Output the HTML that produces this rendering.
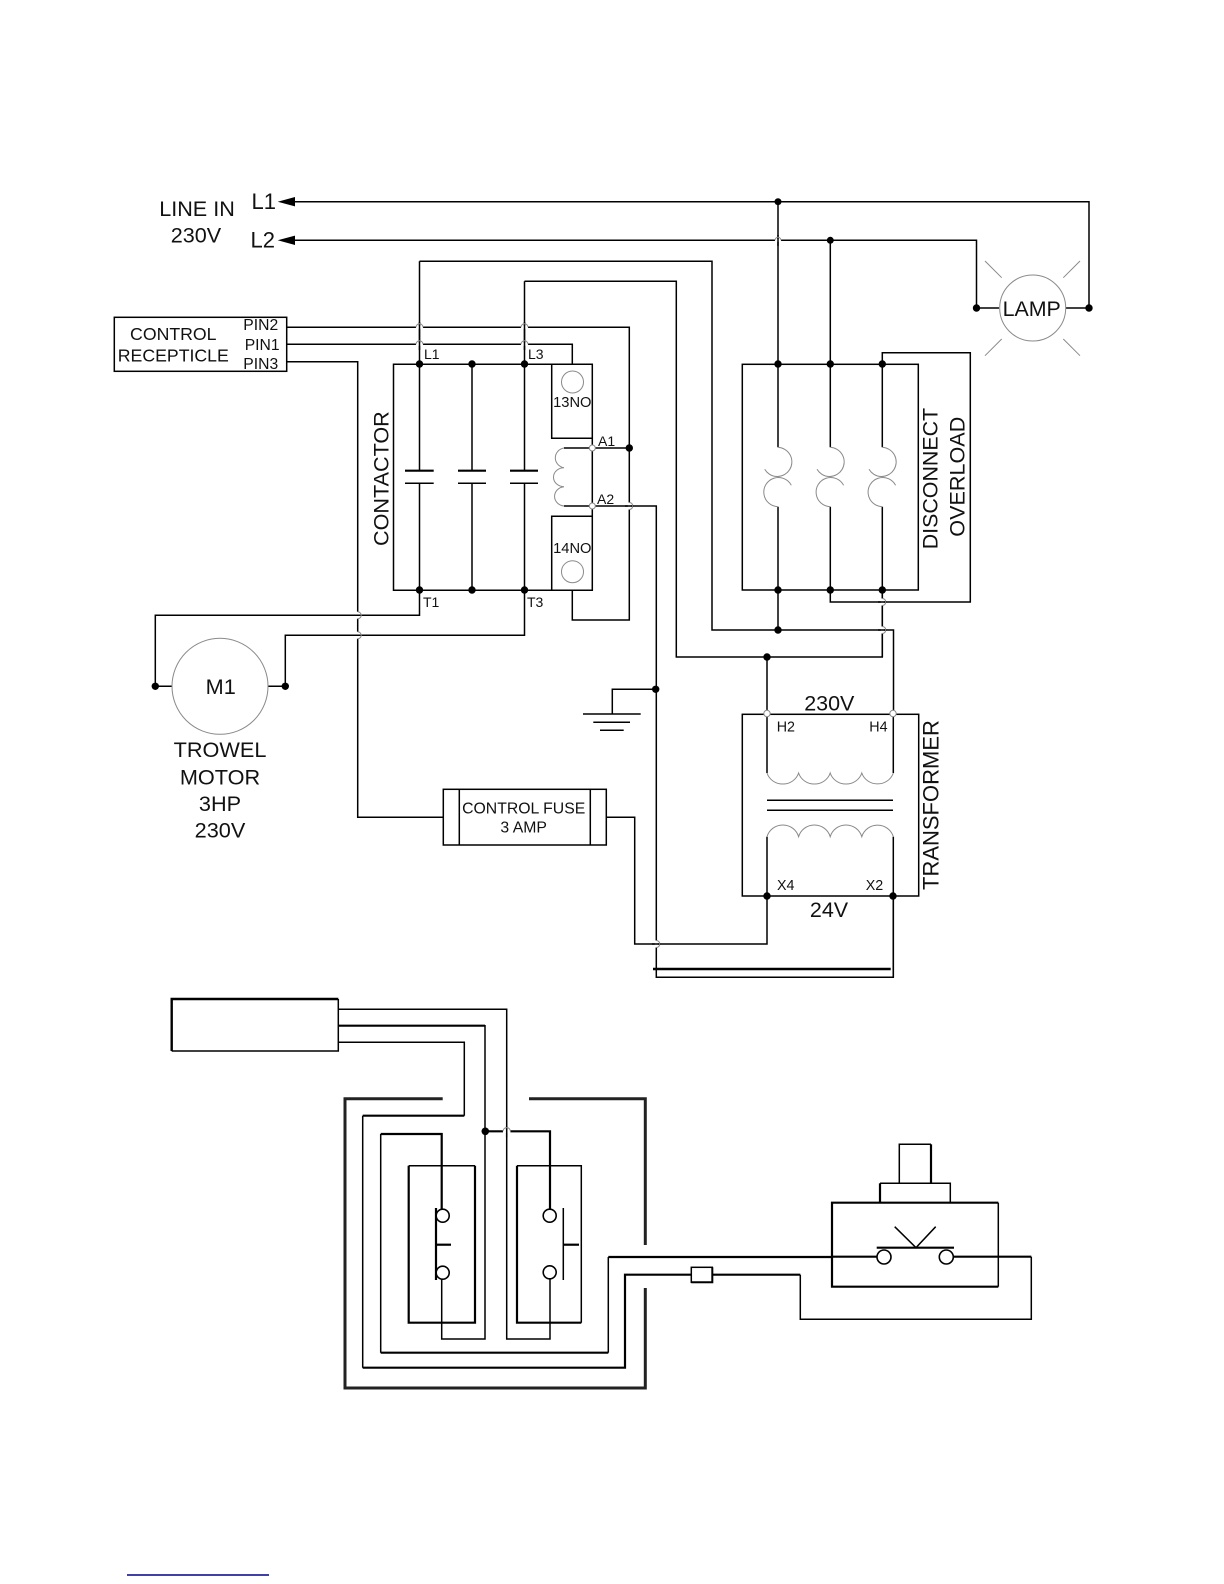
<!DOCTYPE html>
<html>
<head>
<meta charset="utf-8">
<style>
html,body{margin:0;padding:0;background:#fff;}
svg{display:block;}
text{font-family:"Liberation Sans",Arial,sans-serif;fill:#111;}
.w{fill:none;stroke:#000;stroke-width:1.5;}
.t{fill:none;stroke:#000;stroke-width:2.2;}
.g{fill:none;stroke:#8a8a8a;stroke-width:1;}
.h{fill:none;stroke:#fff;stroke-width:3;}
</style>
</head>
<body>
<svg width="1224" height="1584" viewBox="0 0 1224 1584" xmlns="http://www.w3.org/2000/svg">
<rect width="1224" height="1584" fill="#fff"/>

<!-- Line in -->
<path class="w" d="M295 201.7H1089V308"/>
<path class="w" d="M295 240.3H976.5V308H999"/>
<polygon points="277.7,201.7 295,197 295,206.4" fill="#000"/>
<polygon points="277.7,240.3 295,235.6 295,245" fill="#000"/>
<text x="197" y="216" font-size="21.6" text-anchor="middle">LINE IN</text>
<text x="196" y="242.7" font-size="21.6" text-anchor="middle">230V</text>
<text x="251.5" y="209" font-size="22">L1</text>
<text x="250.5" y="247.7" font-size="22">L2</text>

<!-- Lamp -->
<path class="w" d="M1066 308H1089"/>
<circle cx="1032.7" cy="308" r="33" fill="#fff" stroke="#8a8a8a" stroke-width="1"/>
<path class="g" d="M985 261L1001.7 277.7M1080 261L1063.3 277.7M1001.7 339L985 355.7M1063.3 339L1080 355.7"/>
<text x="1031.7" y="316" font-size="21.4" text-anchor="middle">LAMP</text>
<circle cx="976.5" cy="308" r="3.7"/><circle cx="1089" cy="308" r="3.7"/>

<!-- Receptacle -->
<rect class="w" x="114.3" y="317.3" width="172.4" height="54"/>
<text x="173.3" y="340" font-size="17.7" text-anchor="middle">CONTROL</text>
<text x="173.3" y="361.7" font-size="17.7" text-anchor="middle">RECEPTICLE</text>
<text x="243.3" y="330" font-size="15.7">PIN2</text>
<text x="244.7" y="350" font-size="15.7">PIN1</text>
<text x="243.3" y="369" font-size="15.7">PIN3</text>
<path class="w" d="M286.7 327.3H629.3V620H572.3V590.3"/>
<path class="w" d="M286.7 344.3H572.3V364.3"/>
<path class="w" d="M286.7 361.7H357.7V817.2H443.3"/>

<!-- Contactor -->
<path class="w" d="M393.5 364.3H592.3V590.3H393.5Z"/>
<path class="w" d="M551.7 364.3V438.3H592.3M551.7 590.3V516.3H592.3"/>
<path class="w" d="M419.5 261.3H712V630H893.5V714"/>
<path class="w" d="M524.5 281.3H676.3V657H882.3V590.3"/>
<path class="w" d="M419.5 261.3V470.7M419.5 483.3V615.3H155.3V686.3H172"/>
<path class="w" d="M472 364.3V470.7M472 483.3V590.3"/>
<path class="w" d="M524.5 281.3V470.7M524.5 483.3V635.3H285.3V686.3H268"/>
<path d="M405 470.7H433.7M458 470.7H486M510 470.7H538" fill="none" stroke="#000" stroke-width="2.2"/>
<path class="w" d="M405 483.3H433.7M458 483.3H486M510 483.3H538"/>
<circle class="g" cx="572.5" cy="382" r="11"/>
<circle class="g" cx="572.5" cy="571.7" r="11"/>
<text x="572.3" y="407" font-size="14.7" text-anchor="middle">13NO</text>
<text x="572.3" y="553" font-size="14.7" text-anchor="middle">14NO</text>
<path class="w" d="M564 448H629.3"/>
<path class="w" d="M564 506H656.3V977.3H893.3V896"/>
<path class="g" d="M564 448A10.5 10 0 0 0 564 467.7A10.5 9.5 0 0 0 564 486.7A10.5 9.7 0 0 0 564 506"/>
<text x="424" y="359" font-size="14">L1</text>
<text x="528" y="359" font-size="14">L3</text>
<text x="423" y="607" font-size="14">T1</text>
<text x="527" y="607" font-size="14">T3</text>
<text x="598" y="446" font-size="14">A1</text>
<text x="597" y="504" font-size="14">A2</text>
<text transform="translate(388.5 546) rotate(-90)" font-size="21.6">CONTACTOR</text>
<circle cx="592.3" cy="448" r="3" fill="#fff" stroke="#8a8a8a" stroke-width="1"/>
<circle cx="592.3" cy="506" r="3" fill="#fff" stroke="#8a8a8a" stroke-width="1"/>
<g fill="#000">
<circle cx="419.5" cy="364" r="3.7"/><circle cx="472" cy="364" r="3.7"/><circle cx="524.5" cy="364" r="3.7"/>
<circle cx="419.5" cy="590" r="3.7"/><circle cx="472" cy="590" r="3.7"/><circle cx="524.5" cy="590" r="3.7"/>
<circle cx="629.3" cy="448" r="3.7"/>
</g>

<!-- Motor -->
<circle cx="220" cy="686.3" r="48" fill="#fff" stroke="#8a8a8a" stroke-width="1"/>
<circle cx="155.3" cy="686.3" r="3.7"/><circle cx="285.3" cy="686.3" r="3.7"/>
<text x="220.7" y="694" font-size="21.7" text-anchor="middle">M1</text>
<text x="220" y="757" font-size="21.7" text-anchor="middle">TROWEL</text>
<text x="220" y="784.7" font-size="21.7" text-anchor="middle">MOTOR</text>
<text x="220" y="811" font-size="21.7" text-anchor="middle">3HP</text>
<text x="220" y="837.7" font-size="21.7" text-anchor="middle">230V</text>

<!-- Disconnect -->
<rect class="w" x="742.3" y="364.3" width="176" height="225.7"/>
<path class="w" d="M778 201.7V447.3M778 506.7V630"/>
<path class="g" d="M778 447.3A14.6 14.6 0 1 1 764.7 469.3"/>
<path class="g" d="M778 506.7A14.6 14.6 0 1 1 791.3 485.3"/>
<path class="w" d="M830.3 240.3V447.3M830.3 506.7V602H970.3V352.7H882.3V447.3M882.3 506.7V657"/>
<path class="g" d="M830.3 447.3A14.6 14.6 0 1 1 817 469.3"/>
<path class="g" d="M830.3 506.7A14.6 14.6 0 1 1 843.6 485.3"/>
<path class="g" d="M882.3 447.3A14.6 14.6 0 1 1 869 469.3"/>
<path class="g" d="M882.3 506.7A14.6 14.6 0 1 1 895.6 485.3"/>
<g fill="#000">
<circle cx="778" cy="201.7" r="3.5"/><circle cx="830.3" cy="240.3" r="3.5"/>
<circle cx="778" cy="364" r="3.7"/><circle cx="830.3" cy="364" r="3.7"/><circle cx="882.3" cy="364" r="3.7"/>
<circle cx="778" cy="590" r="3.7"/><circle cx="830.3" cy="590" r="3.7"/><circle cx="882.3" cy="590" r="3.7"/>
<circle cx="778" cy="630" r="3.7"/>
</g>
<text transform="translate(937.3 549.3) rotate(-90)" font-size="21.4">DISCONNECT</text>
<text transform="translate(964.3 536.7) rotate(-90)" font-size="21.6">OVERLOAD</text>

<!-- Ground -->
<path class="w" d="M655.7 689.3H612.3V714"/>
<path class="w" d="M583 714H640.7M593.3 722.3H630M600 730.3H623.7"/>
<circle cx="655.7" cy="689.3" r="3.7"/>

<!-- Fuse -->
<rect class="w" x="443.3" y="789.3" width="163" height="55.7" fill="#fff"/>
<path class="w" d="M459.3 789.3V845M590.3 789.3V845"/>
<text x="523.7" y="813.3" font-size="15.8" text-anchor="middle">CONTROL FUSE</text>
<text x="523.7" y="832.7" font-size="15.8" text-anchor="middle">3 AMP</text>
<path class="w" d="M606.3 817.2H634.7V944H767V896"/>

<!-- Transformer -->
<rect class="w" x="742.3" y="714.3" width="176.4" height="181.7"/>
<path class="w" d="M767 657V773M893.3 714V773M767 836.7V896M893.3 836.7V977"/>
<path class="g" d="M767 773A16.5 15.5 0 0 0 798.6 773A16.5 15.5 0 0 0 830.2 773A16.5 15.5 0 0 0 861.8 773A16.5 15.5 0 0 0 893.3 773"/>
<path class="g" d="M767 836.7A16.5 16.5 0 0 1 798.6 836.7A16.5 16.5 0 0 1 830.2 836.7A16.5 16.5 0 0 1 861.8 836.7A16.5 16.5 0 0 1 893.3 836.7"/>
<path class="w" d="M767 800.3H893M767 810.3H893"/>
<path d="M653 969H890.7" stroke="#000" stroke-width="2.6" fill="none"/>
<circle cx="767" cy="657" r="3.7"/>
<circle cx="767" cy="713.5" r="3.2" fill="#fff" stroke="#8a8a8a" stroke-width="1"/>
<circle cx="893" cy="713.5" r="3.2" fill="#fff" stroke="#8a8a8a" stroke-width="1"/>
<circle cx="767" cy="896" r="3.7"/><circle cx="893" cy="896" r="3.7"/>
<text x="829.3" y="710.7" font-size="21.5" text-anchor="middle">230V</text>
<text x="829" y="917" font-size="21.5" text-anchor="middle">24V</text>
<text x="776.7" y="731.7" font-size="14.3">H2</text>
<text x="869.3" y="731.7" font-size="14.3">H4</text>
<text x="777" y="890" font-size="14.3">X4</text>
<text x="865.7" y="890" font-size="14.3">X2</text>
<text transform="translate(938.3 890) rotate(-90)" font-size="22">TRANSFORMER</text>

<!-- Hops: horizontal over vertical -->
<path class="h" d="M416 327.3H423M521 327.3H528M416 344.3H423M521 344.3H528M775 240.3H781"/>
<path class="w" d="M419.5 322V350M524.5 322V350M778 235V246"/>
<path class="g" d="M416 327.3A3.5 3.5 0 0 1 423 327.3M521 327.3A3.5 3.5 0 0 1 528 327.3M416 344.3A3.5 3.5 0 0 1 423 344.3M521 344.3A3.5 3.5 0 0 1 528 344.3M775 240.3A3 3 0 0 1 781 240.3"/>
<!-- Hops: vertical over horizontal -->
<path class="h" d="M629.3 502.5V509.5M357.7 611.8V618.8M357.7 631.8V638.8M656.3 940.5V947.5M882.3 598.5V605.5M882.3 626.5V633.5"/>
<path class="w" d="M625 506H634M353 615.3H362M353 635.3H362M652 944H661M878 602H887M878 630H887"/>
<path class="g" d="M629.3 502.5A3.5 3.5 0 0 1 629.3 509.5M357.7 611.8A3.5 3.5 0 0 1 357.7 618.8M357.7 631.8A3.5 3.5 0 0 1 357.7 638.8M656.3 940.5A3.5 3.5 0 0 1 656.3 947.5M882.3 598.5A3.5 3.5 0 0 1 882.3 605.5M882.3 626.5A3.5 3.5 0 0 1 882.3 633.5"/>

<!-- Bottom: remote box -->
<path d="M338.3 999H171.7V1051" fill="none" stroke="#000" stroke-width="2.4"/>
<path class="w" d="M171.7 1051H338.3V999"/>
<path class="w" d="M338.3 1009.3H506.7V1339H550V1279"/>
<path class="t" d="M338.3 1025.7H485"/>
<path class="w" d="M485 1025V1339H441.7V1279"/>
<path class="w" d="M338.3 1042.3H464.3V1115.7"/>
<path class="t" d="M464.3 1115.7H362.7M362.7 1367.7H625V1274.7H691.3"/>
<path class="w" d="M362.7 1115.7V1367.7"/>

<!-- Enclosure -->
<path d="M442.7 1098.7H345V1388H645.3V1288M529 1098.7H645.3V1245" fill="none" stroke="#222" stroke-width="3"/>

<!-- inner wiring -->
<path class="t" d="M441.7 1209V1134H380.7"/>
<path class="w" d="M380.7 1134V1352.7"/>
<path class="t" d="M380.7 1352.7H608.3"/>
<path class="w" d="M608.3 1352.7V1257"/>
<path class="t" d="M608.3 1257H832"/>
<path class="t" d="M485.3 1131.3H550V1209"/>
<path class="h" d="M503 1131.3H510.4"/>
<path class="w" d="M506.7 1126V1137"/>
<path class="g" d="M503 1131.3A3.7 3.7 0 0 1 510.4 1131.3"/>
<circle cx="485.3" cy="1131.3" r="3.8"/>

<!-- Switches -->
<path class="w" d="M408.7 1165.7H475"/>
<path class="t" d="M408.7 1165.7V1322.7H475V1165.7"/>
<path class="w" d="M517 1165.7H581.3V1322.7"/>
<path class="t" d="M517 1165.7V1322.7H581.3"/>
<path class="t" d="M436 1208V1280"/>
<path class="t" d="M436 1244.7H451"/>
<path class="w" d="M563.3 1208V1280"/>
<path class="t" d="M563.3 1244.7H579"/>
<g fill="#fff" stroke="#000" stroke-width="1.6">
<circle cx="442.7" cy="1215.7" r="6.5"/><circle cx="442.7" cy="1272.7" r="6.5"/>
<circle cx="549.7" cy="1215.7" r="6.5"/><circle cx="549.7" cy="1272.3" r="6.5"/>
</g>

<!-- Fuse small + pushbutton -->
<rect x="691.3" y="1267.3" width="21" height="15" fill="#fff" stroke="#000" stroke-width="1.5"/>
<path d="M691.3 1282.3H712.3V1267.3" fill="none" stroke="#000" stroke-width="2"/>
<path class="t" d="M712.3 1274.7H800.3"/>
<path class="w" d="M800.3 1274.7V1319.3H1031.3V1256.7"/>
<path class="t" d="M832 1256.7H877M953 1256.7H1031.3"/>
<path class="t" d="M998.3 1202.7H832V1286.7H998.3"/>
<path class="w" d="M998.3 1202.7V1286.7"/>
<path class="w" d="M880 1183.3H950.3V1202.7"/>
<path class="t" d="M880 1183.3V1202.7"/>
<path class="w" d="M899.3 1183.3V1144.3H931"/>
<path class="t" d="M931 1144.3V1183.3"/>
<path class="t" d="M876.7 1247.7H954"/>
<path class="w" d="M894.7 1226.7L916 1247.7L935.7 1226.7"/>
<circle cx="884" cy="1257" r="7" fill="#fff" stroke="#000" stroke-width="1.6"/>
<circle cx="946.3" cy="1257" r="7" fill="#fff" stroke="#000" stroke-width="1.6"/>

<!-- Footer rule -->
<path d="M127 1575H269" stroke="#00008b" stroke-width="1.4" fill="none"/>
</svg>
</body>
</html>
